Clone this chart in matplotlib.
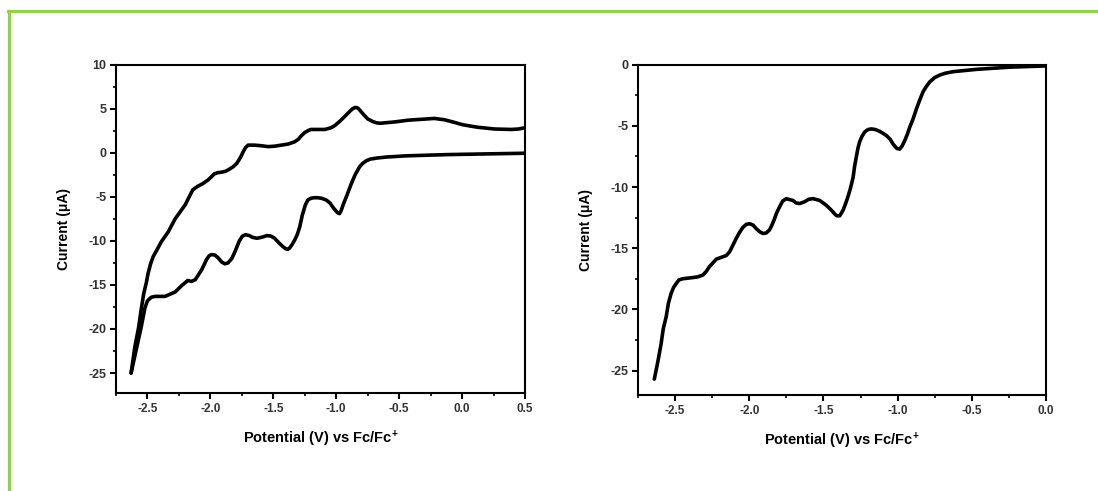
import numpy as np
import matplotlib
matplotlib.use("Agg")
import matplotlib.pyplot as plt
from matplotlib.ticker import MultipleLocator
from matplotlib.lines import Line2D

# cyclic voltammogram: cathodic sweep (0.5 V -> -2.63 V)
cv_fwd_x = [0.5, 0.3, 0.1, -0.1, -0.273, -0.45, -0.6, -0.68, -0.73, -0.76, -0.79, -0.815,
            -0.85, -0.88, -0.92, -0.945, -0.962, -0.974, -0.99, -1.02, -1.05, -1.08, -1.12,
            -1.15, -1.172, -1.2, -1.225, -1.245, -1.27, -1.29, -1.31, -1.33, -1.35, -1.37,
            -1.384, -1.4, -1.42, -1.45, -1.49, -1.52, -1.55, -1.595, -1.63, -1.665, -1.69,
            -1.72, -1.745, -1.77, -1.79, -1.807, -1.83, -1.86, -1.885, -1.91, -1.94, -1.965,
            -1.99, -2.01, -2.03, -2.07, -2.12, -2.15, -2.18, -2.23, -2.28, -2.36, -2.44,
            -2.47, -2.5, -2.52, -2.55, -2.59, -2.63]
cv_fwd_y = [-0.05, -0.1, -0.15, -0.2, -0.27, -0.35, -0.48, -0.6, -0.72, -0.9, -1.2, -1.6,
            -2.5, -3.5, -5.0, -5.9, -6.6, -6.9, -6.8, -6.3, -5.7, -5.35, -5.15, -5.1, -5.1,
            -5.15, -5.35, -5.9, -7.1, -8.4, -9.3, -9.9, -10.4, -10.8, -10.95, -10.9, -10.7,
            -10.3, -9.7, -9.45, -9.4, -9.6, -9.7, -9.6, -9.4, -9.3, -9.45, -10.0, -10.7,
            -11.3, -12.0, -12.5, -12.6, -12.4, -11.9, -11.6, -11.55, -11.7, -12.1, -13.3,
            -14.4, -14.6, -14.5, -15.1, -15.8, -16.3, -16.3, -16.4, -16.8, -17.6, -19.8,
            -22.4, -25.0]

# anodic return sweep (-2.63 V -> 0.5 V)
cv_rev_x = [-2.63, -2.6, -2.57, -2.55, -2.53, -2.51, -2.495, -2.475, -2.455, -2.42, -2.39,
            -2.336, -2.28, -2.24, -2.2, -2.165, -2.14, -2.1, -2.06, -2.02, -1.99, -1.97,
            -1.94, -1.91, -1.88, -1.86, -1.82, -1.79, -1.76, -1.74, -1.72, -1.7, -1.65,
            -1.595, -1.54, -1.49, -1.436, -1.38, -1.33, -1.3, -1.28, -1.25, -1.22, -1.2,
            -1.15, -1.09, -1.04, -1.01, -0.97, -0.934, -0.9, -0.87, -0.85, -0.83, -0.81,
            -0.78, -0.75, -0.71, -0.68, -0.65, -0.616, -0.537, -0.43, -0.325, -0.22,
            -0.14, -0.06, 0.0, 0.06, 0.124, 0.257, 0.39, 0.45, 0.5]
cv_rev_y = [-25.0, -22.0, -19.8, -17.8, -16.0, -14.8, -13.7, -12.6, -11.8, -10.9, -10.1,
            -9.0, -7.5, -6.7, -5.9, -4.9, -4.2, -3.8, -3.5, -3.1, -2.7, -2.4, -2.25, -2.2,
            -2.1, -1.95, -1.6, -1.2, -0.5, 0.1, 0.6, 0.87, 0.87, 0.8, 0.7, 0.75, 0.87, 1.0,
            1.25, 1.55, 1.9, 2.3, 2.55, 2.65, 2.65, 2.65, 2.85, 3.1, 3.6, 4.1, 4.6, 5.0,
            5.15, 5.1, 4.8, 4.3, 3.85, 3.55, 3.4, 3.35, 3.4, 3.5, 3.7, 3.8, 3.9, 3.75, 3.45,
            3.2, 3.05, 2.9, 2.7, 2.65, 2.7, 2.85]

# linear sweep voltammogram (0 V -> -2.64 V)
lsv_x = [0.0, -0.243, -0.468, -0.626, -0.68, -0.716, -0.75, -0.783, -0.805, -0.828, -0.85,
         -0.873, -0.895, -0.918, -0.935, -0.952, -0.97, -0.986, -1.005, -1.03, -1.05,
         -1.075, -1.1, -1.12, -1.15, -1.177, -1.2, -1.222, -1.24, -1.256, -1.268, -1.278,
         -1.29, -1.3, -1.318, -1.335, -1.352, -1.368, -1.39, -1.41, -1.424, -1.45, -1.48,
         -1.525, -1.57, -1.6, -1.627, -1.66, -1.685, -1.705, -1.75, -1.775, -1.795,
         -1.815, -1.83, -1.845, -1.863, -1.885, -1.908, -1.93, -1.953, -1.975, -1.998,
         -2.02, -2.043, -2.065, -2.088, -2.11, -2.133, -2.155, -2.178, -2.223, -2.245,
         -2.268, -2.29, -2.313, -2.35, -2.38, -2.45, -2.475, -2.493, -2.51, -2.527, -2.545,
         -2.56, -2.58, -2.594, -2.615, -2.64]
lsv_y = [-0.1, -0.2, -0.38, -0.57, -0.7, -0.85, -1.05, -1.4, -1.75, -2.2, -2.85, -3.6,
         -4.4, -5.1, -5.7, -6.2, -6.65, -6.9, -6.85, -6.5, -6.1, -5.8, -5.6, -5.45, -5.3,
         -5.25, -5.3, -5.5, -5.85, -6.3, -6.85, -7.5, -8.3, -9.2, -10.1, -10.8, -11.4,
         -11.9, -12.35, -12.35, -12.2, -11.85, -11.5, -11.1, -10.95, -11.0, -11.2, -11.35,
         -11.3, -11.1, -10.95, -11.15, -11.6, -12.1, -12.6, -13.05, -13.5, -13.75, -13.8,
         -13.65, -13.4, -13.1, -13.0, -13.05, -13.3, -13.7, -14.2, -14.75, -15.3, -15.6,
         -15.7, -15.9, -16.2, -16.5, -16.9, -17.2, -17.35, -17.4, -17.5, -17.6, -17.9,
         -18.2, -18.7, -19.5, -20.6, -21.6, -22.8, -24.2, -25.7]

x_ticks_cv = [-2.5, -2.0, -1.5, -1.0, -0.5, 0.0, 0.5]
x_ticks_lsv = [-2.5, -2.0, -1.5, -1.0, -0.5, 0.0]
y_ticks_cv = [-25, -20, -15, -10, -5, 0, 5, 10]
y_ticks_lsv = [-25, -20, -15, -10, -5, 0]

xlabel = "Potential (V) vs Fc/Fc$^{\\mathbf{+}}$"
ylabel = "Current (\u03bcA)"

plt.rcParams["font.family"] = ["Liberation Sans", "DejaVu Sans"]
plt.rcParams["mathtext.fontset"] = "custom"
plt.rcParams["mathtext.rm"] = "Liberation Sans:bold"
plt.rcParams["mathtext.bf"] = "Liberation Sans:bold"
plt.rcParams["mathtext.default"] = "rm"

fig = plt.figure(figsize=(10.98, 4.91), dpi=100)

# green frame, only the left and top edges are visible
fig.add_artist(Line2D([8.5 / 1098, 8.5 / 1098], [0, 1 - 10.5 / 491],
                      transform=fig.transFigure, color="#92d050", lw=2.3))
fig.add_artist(Line2D([7.5 / 1098, 1], [1 - 11 / 491, 1 - 11 / 491],
                      transform=fig.transFigure, color="#92d050", lw=2.3))

ax1 = fig.add_axes([116 / 1098, 1 - 393.3 / 491, 409 / 1098, 328.6 / 491])
ax2 = fig.add_axes([638 / 1098, 1 - 395 / 491, 408 / 1098, 330.3 / 491])

style = dict(color="black", lw=2.6, solid_capstyle="round", solid_joinstyle="round")
ax1.plot(cv_fwd_x, cv_fwd_y, **style)
ax1.plot(cv_rev_x, cv_rev_y, **style)
ax2.plot(lsv_x, lsv_y, **style)

setup = [
    (ax1, (-2.75, 0.5), (-27.3, 10), x_ticks_cv, y_ticks_cv),
    (ax2, (-2.75, 0.0), (-27, 0), x_ticks_lsv, y_ticks_lsv),
]
for ax, xl, yl, xt, yt in setup:
    ax.set_xlim(*xl)
    ax.set_ylim(*yl)
    ax.set_xticks(xt)
    ax.set_yticks(yt)
    ax.xaxis.set_minor_locator(MultipleLocator(0.25))
    ax.yaxis.set_minor_locator(MultipleLocator(2.5))
    ax.set_xticklabels(["%.1f" % v for v in xt], fontsize=8.5,
                       fontweight="bold", color="#333333")
    ax.set_yticklabels([str(v) for v in yt], fontsize=9, fontweight="bold",
                       color="#333333")
    ax.tick_params(which="major", direction="out", length=4, width=1.5, pad=3)
    ax.tick_params(which="minor", direction="out", length=2.5, width=1.2)
    for s in ax.spines.values():
        s.set_linewidth(1.5)
    ax.set_xlabel(xlabel, fontsize=10.5, fontweight="bold", labelpad=10)
    ax.set_ylabel(ylabel, fontsize=10, fontweight="bold", labelpad=12)

fig.savefig("out.png", dpi=100)
